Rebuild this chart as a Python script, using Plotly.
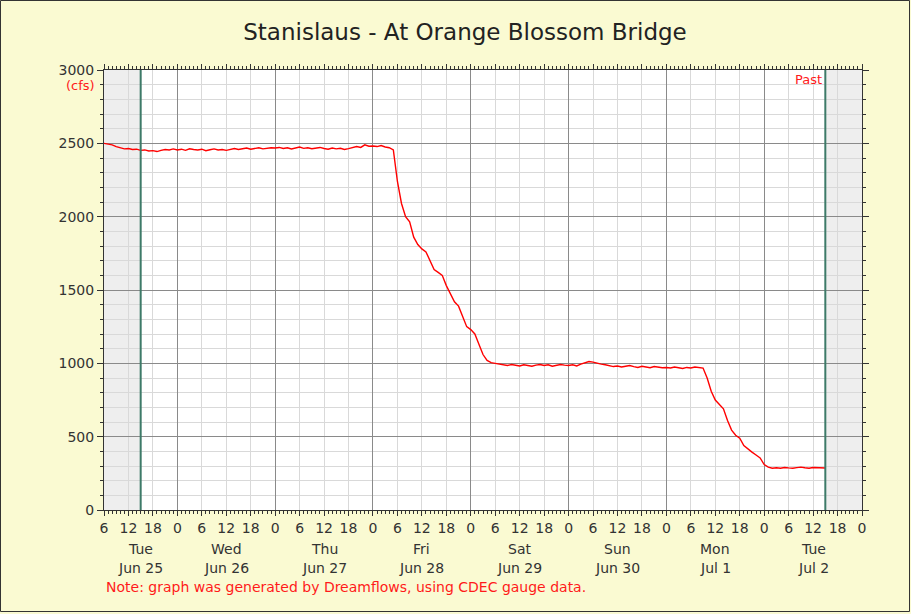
import pandas as pd
import plotly.graph_objects as go

title = "Stanislaus - At Orange Blossom Bridge"
start_time = "2024-06-25 06:00"
axis_start = "2024-06-25 06:00"
axis_end = "2024-07-03 00:00"
window_start = "2024-06-25 15:00"
window_end = "2024-07-02 15:00"

# hourly flow (cfs)
flow_jun25 = [2500, 2495, 2490, 2478, 2470, 2462, 2465, 2458, 2460, 2452, 2455, 2448,
              2450, 2444, 2452, 2458, 2455, 2462]
flow_jun26 = [2455, 2460, 2452, 2463, 2458, 2455, 2460, 2450, 2456, 2462, 2455, 2458,
              2452, 2460, 2465, 2458, 2462, 2468, 2460, 2465, 2470, 2462, 2466, 2470]
flow_jun27 = [2468, 2472, 2465, 2470, 2462, 2468, 2475, 2466, 2470, 2463, 2468, 2472,
              2465, 2460, 2468, 2462, 2466, 2458, 2464, 2470, 2478, 2472, 2490, 2480]
flow_jun28 = [2482, 2478, 2485, 2475, 2470, 2455, 2240, 2090, 2000, 1965, 1860, 1810,
              1780, 1760, 1700, 1640, 1620, 1600, 1530, 1470, 1420, 1390, 1320, 1250]
flow_jun29 = [1230, 1200, 1130, 1060, 1020, 1005, 1000, 995, 990, 985, 992, 988,
              982, 990, 985, 980, 988, 992, 985, 990, 980, 986, 992, 988]
flow_jun30 = [985, 990, 982, 995, 1005, 1012, 1008, 1000, 995, 990, 985, 978,
              982, 975, 980, 985, 978, 972, 980, 975, 970, 978, 974, 970]
flow_jul1 = [972, 968, 975, 970, 965, 972, 968, 975, 970, 968, 900, 810,
             750, 720, 690, 610, 545, 510, 490, 440, 415, 395, 375, 355]
flow_jul2 = [310, 292, 285, 288, 285, 290, 287, 285, 289, 292, 288, 285,
             290, 287, 288, 286]

day_names = ["Tue", "Wed", "Thu", "Fri", "Sat", "Sun", "Mon", "Tue"]
day_dates = ["Jun 25", "Jun 26", "Jun 27", "Jun 28", "Jun 29", "Jun 30", "Jul 1", "Jul 2"]

flow = (flow_jun25 + flow_jun26 + flow_jun27 + flow_jun28 + flow_jun29 +
        flow_jun30 + flow_jul1 + flow_jul2)
times = pd.date_range(start_time, periods=len(flow), freq="h")

t0 = pd.Timestamp(axis_start)
t1 = pd.Timestamp(axis_end)
w0 = pd.Timestamp(window_start)
w1 = pd.Timestamp(window_end)

tickvals = pd.date_range(t0, t1, freq="6h")
ticktext = [str(t.hour) for t in tickvals]
midnights = pd.date_range(t0.normalize() + pd.Timedelta(days=1), t1, freq="D")

FONT = "DejaVu Sans"
RED = "#ff1a1a"
GREEN = "#3d7a68"
TXT = "#333333"
FS = 14

fig = go.Figure()
# invisible companion trace so the overlaid day-grid axis is drawn
fig.add_trace(go.Scatter(x=times, y=flow, mode="lines", xaxis="x2", yaxis="y",
                         line=dict(color="rgba(0,0,0,0)", width=0),
                         showlegend=False, hoverinfo="skip"))
fig.add_trace(go.Scatter(x=times, y=flow, mode="lines",
                         line=dict(color="#ff0000", width=1.4),
                         showlegend=False, hoverinfo="x+y"))

shapes = []
# shaded areas outside the 7-day window
shapes.append(dict(type="rect", xref="x", yref="paper", x0=t0, x1=w0, y0=0, y1=1,
                   fillcolor="#eeeeee", line_width=0, layer="below"))
shapes.append(dict(type="rect", xref="x", yref="paper", x0=w1, x1=t1, y0=0, y1=1,
                   fillcolor="#eeeeee", line_width=0, layer="below"))
# window markers
for t in (w0, w1):
    shapes.append(dict(type="line", xref="x", yref="paper", x0=t, x1=t, y0=0, y1=1,
                       line=dict(color=GREEN, width=2)))
# figure border
shapes.append(dict(type="rect", xref="paper", yref="paper",
                   x0=-103.5 / 758, x1=805.5 / 758, y0=-101.5 / 440, y1=509.5 / 440,
                   line=dict(color=TXT, width=1), fillcolor="rgba(0,0,0,0)"))

annotations = []
for i, (dn, dd) in enumerate(zip(day_names, day_dates)):
    ds = t0.normalize() + pd.Timedelta(days=i)
    de = ds + pd.Timedelta(days=1)
    a = max(ds, t0)
    b = min(de, t1)
    c = a + (b - a) / 2
    annotations.append(dict(x=c, y=-39 / 440, xref="x", yref="paper", text=dn,
                            showarrow=False, font=dict(family=FONT, size=FS, color=TXT),
                            xanchor="center", yanchor="middle"))
    annotations.append(dict(x=c, y=-58 / 440, xref="x", yref="paper", text=dd,
                            showarrow=False, font=dict(family=FONT, size=FS, color=TXT),
                            xanchor="center", yanchor="middle"))
annotations.append(dict(x=0, y=-77 / 440, xref="paper", yref="paper",
                        text="Note: graph was generated by Dreamflows, using CDEC gauge data.",
                        showarrow=False, font=dict(family=FONT, size=14, color=RED),
                        xanchor="left", yanchor="middle"))
annotations.append(dict(x=w1, y=1, xref="x", yref="paper", text="Past",
                        showarrow=False, font=dict(family=FONT, size=13, color=RED),
                        xanchor="right", yanchor="top", xshift=-1, yshift=0))
annotations.append(dict(x=0, y=3000, xref="paper", yref="y", text="(cfs)",
                        showarrow=False, font=dict(family=FONT, size=13, color=RED),
                        xanchor="right", yanchor="middle", xshift=-7, yshift=-15))

fig.update_layout(
    width=911, height=614,
    margin=dict(l=104, r=49, t=70, b=104),
    paper_bgcolor="#fafad2",
    plot_bgcolor="#ffffff",
    title=dict(text=title, x=465 / 911, xref="container", xanchor="center",
               y=1 - 32 / 614, yanchor="middle",
               font=dict(family=FONT, size=23, color="#222222")),
    font=dict(family=FONT, size=FS, color=TXT),
    shapes=shapes,
    annotations=annotations,
    showlegend=False,
    xaxis=dict(type="date", range=[t0, t1], tickmode="array", tickvals=tickvals,
               ticktext=ticktext, showgrid=True, gridcolor="#d9d9d9", gridwidth=1,
               ticks="outside", ticklen=5, tickcolor=TXT, mirror="ticks",
               showline=True, linecolor=TXT, linewidth=1, zeroline=False,
               tickfont=dict(family=FONT, size=FS, color=TXT),
               minor=dict(dtick=3600000, ticks="outside", ticklen=3, tickcolor=TXT,
                          showgrid=False)),
    xaxis2=dict(type="date", overlaying="x", anchor="y", side="bottom",
                range=[t0, t1], tickmode="array", tickvals=midnights,
                showticklabels=False, ticks="", showgrid=True, gridcolor="#8a8a8a",
                gridwidth=1, showline=False, zeroline=False),
    yaxis=dict(range=[0, 3000], dtick=500, tick0=0, showgrid=True, gridcolor="#8a8a8a",
               gridwidth=1, ticks="outside", ticklen=6, tickcolor=TXT,
               mirror="ticks", showline=True, linecolor=TXT, linewidth=1,
               zeroline=False, tickfont=dict(family=FONT, size=FS, color=TXT),
               minor=dict(dtick=100, ticks="outside", ticklen=3, tickcolor=TXT,
                          showgrid=True, gridcolor="#d9d9d9")),
)

fig.write_html("out.html", config={"displayModeBar": False},
               post_script="document.body.style.margin='0';")
